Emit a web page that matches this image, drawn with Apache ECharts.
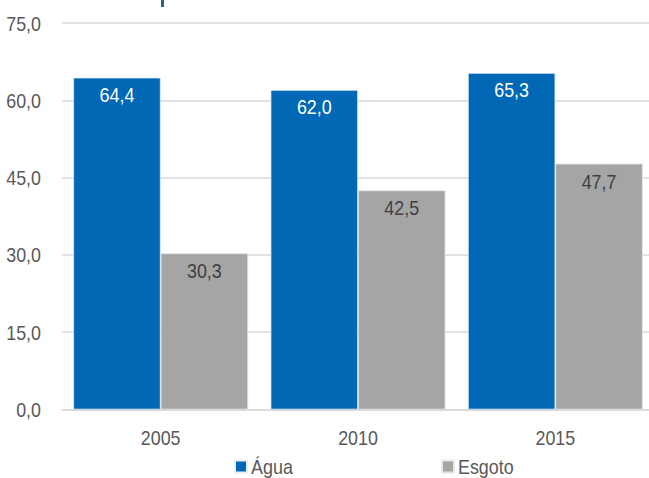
<!DOCTYPE html>
<html>
<head>
<meta charset="utf-8">
<script src="https://cdn.jsdelivr.net/npm/echarts@6/dist/echarts.min.js"></script>
<style>
  html, body { margin: 0; padding: 0; background: #fff; }
  #chart { width: 649px; height: 478px; }
</style>
</head>
<body>
<div id="chart"></div>
<script>
const years = ['2005', '2010', '2015'];
const agua = [64.4, 62.0, 65.3];
const esgoto = [30.3, 42.5, 47.7];
const yTicks = { min: 0, max: 75, interval: 15 };

const FONT = '"Liberation Sans", Arial, sans-serif';
const FS = 21;
// horizontal squeeze applied to every text run, giving a narrow typeface look
const NARROW = 0.85;
const fmt = v => v.toFixed(1).replace('.', ',');

const chart = echarts.init(document.getElementById('chart'), null, { renderer: 'svg' });

const legendText = { fontFamily: FONT, fontSize: FS, color: '#595959', padding: [0, 0, 0, -1] };
const legendBase = { top: 456, padding: 0, itemWidth: 12, itemHeight: 12, icon: 'rect', textStyle: legendText };

chart.setOption({
  animation: false,
  textStyle: { fontFamily: FONT },
  graphic: [{
    type: 'rect',
    shape: { x: 161, y: 0, width: 3, height: 7 },
    style: { fill: '#2a5f8f' }
  }],
  grid: { left: 62, right: -5, top: 23, bottom: 68.5, outerBoundsMode: 'none' },
  legend: [
    Object.assign({ left: 234, data: ['Água'] }, legendBase),
    Object.assign({ left: 441, data: ['Esgoto'] }, legendBase)
  ],
  xAxis: {
    type: 'category',
    data: years,
    axisTick: { show: false },
    axisLine: { lineStyle: { color: '#d9d9d9', width: 1.5 } },
    axisLabel: { fontFamily: FONT, fontSize: FS, color: '#595959', margin: 17 }
  },
  yAxis: {
    type: 'value',
    min: yTicks.min,
    max: yTicks.max,
    interval: yTicks.interval,
    axisLabel: { fontFamily: FONT, fontSize: FS, color: '#595959', margin: 21, formatter: fmt },
    splitLine: { lineStyle: { color: '#d9d9d9', width: 1.5 } }
  },
  series: [
    {
      name: 'Água',
      type: 'bar',
      data: agua,
      barGap: '0%',
      barCategoryGap: '11.4%',
      itemStyle: { color: '#0068b4', borderColor: '#e8f0f8', borderWidth: 0.75 },
      label: {
        show: true, position: 'insideTop', distance: 6,
        fontFamily: FONT, fontSize: FS, color: '#ffffff',
        formatter: p => fmt(p.value)
      }
    },
    {
      name: 'Esgoto',
      type: 'bar',
      data: esgoto,
      itemStyle: { color: '#a5a5a5', borderColor: '#e6e6e6', borderWidth: 0.75 },
      label: {
        show: true, position: 'insideTop', distance: 7,
        fontFamily: FONT, fontSize: FS, color: '#3f3f3f',
        formatter: p => fmt(p.value)
      }
    }
  ]
});

// Condense each text run around its own anchor point
function narrowTexts() {
  const texts = document.querySelectorAll('#chart svg text');
  texts.forEach(t => {
    if (t.getAttribute('data-narrow')) return;
    const before = t.getBBox();
    if (!before.width) return;
    const anchor = t.getAttribute('text-anchor') || getComputedStyle(t).textAnchor || 'start';
    t.setAttribute('textLength', (before.width * NARROW).toFixed(2));
    t.setAttribute('lengthAdjust', 'spacingAndGlyphs');
    const after = t.getBBox();
    let want;
    if (anchor === 'middle') want = before.x + before.width / 2 - after.width / 2;
    else if (anchor === 'end') want = before.x + before.width - after.width;
    else want = before.x;
    const dx = want - after.x;
    if (Math.abs(dx) > 0.01) {
      const x = parseFloat(t.getAttribute('x') || '0');
      t.setAttribute('x', (x + dx).toFixed(2));
    }
    t.setAttribute('data-narrow', '1');
  });
}
narrowTexts();
chart.on('finished', narrowTexts);
</script>
</body>
</html>
